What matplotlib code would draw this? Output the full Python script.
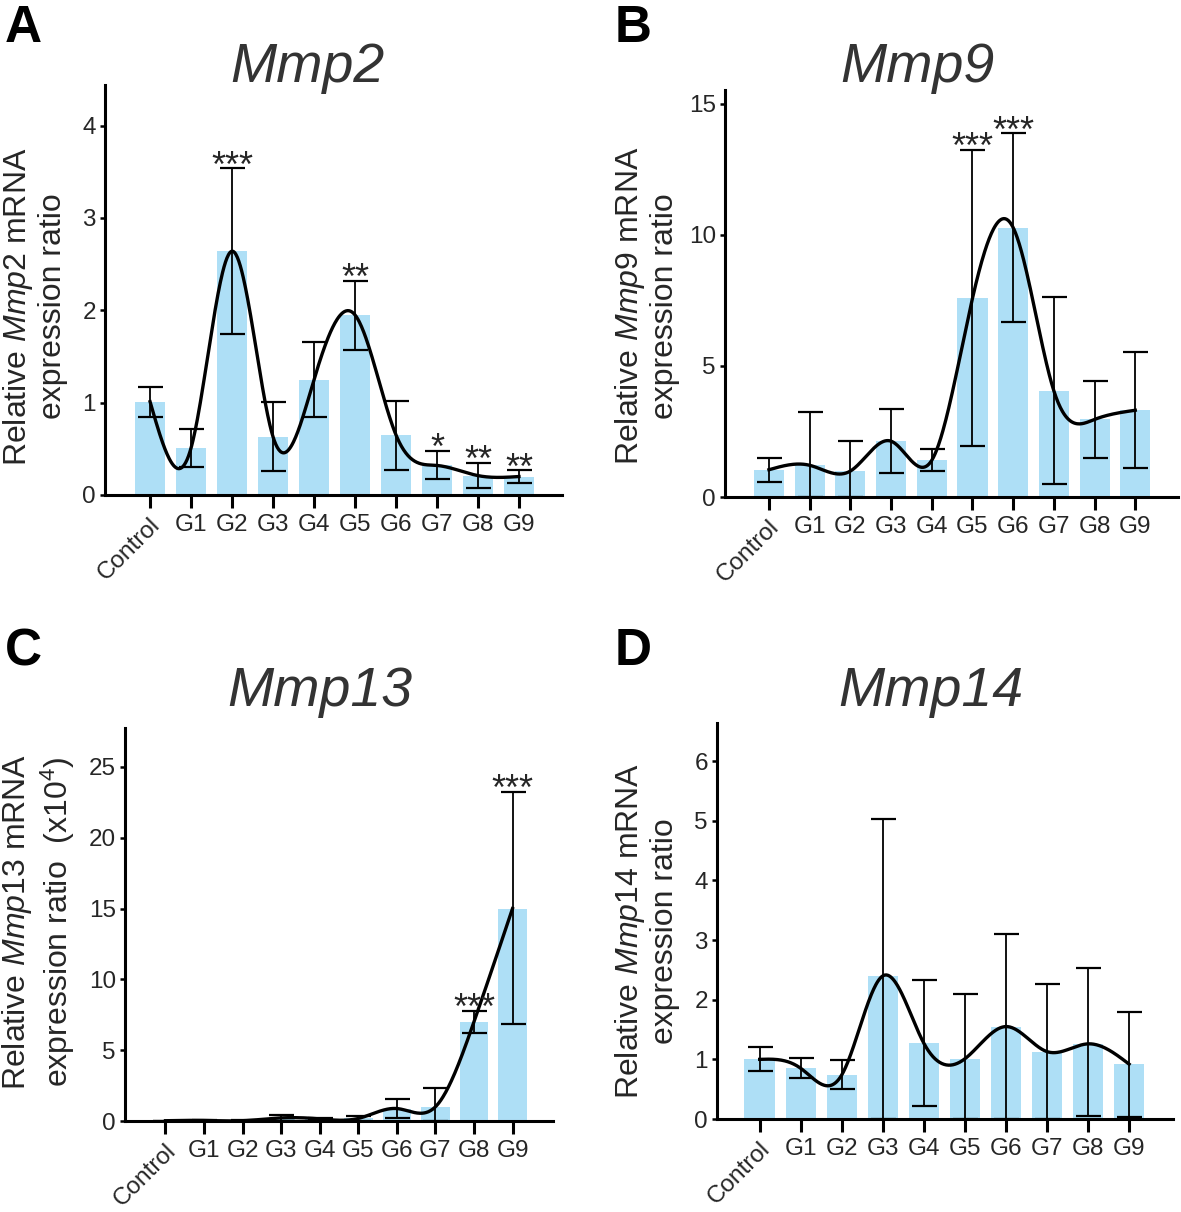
import numpy as np
import matplotlib
matplotlib.use("Agg")
import matplotlib.pyplot as plt
import matplotlib.transforms as mtransforms
from matplotlib import font_manager

groups = ["Control", "G1", "G2", "G3", "G4", "G5", "G6", "G7", "G8", "G9"]

# Mmp2
mmp2_mean = [1.01, 0.51, 2.64, 0.63, 1.25, 1.95, 0.65, 0.32, 0.21, 0.20]
mmp2_hi = [1.17, 0.72, 3.54, 1.01, 1.66, 2.32, 1.02, 0.48, 0.35, 0.27]
mmp2_lo = [0.85, 0.30, 1.74, 0.26, 0.85, 1.57, 0.27, 0.17, 0.08, 0.13]
mmp2_stars = ["", "", "***", "", "", "**", "", "*", "**", "**"]

# Mmp9
mmp9_mean = [1.04, 1.21, 0.99, 2.13, 1.40, 7.58, 10.28, 4.05, 2.96, 3.31]
mmp9_hi = [1.49, 3.25, 2.13, 3.35, 1.82, 13.25, 13.89, 7.64, 4.42, 5.54]
mmp9_lo = [0.57, 0.0, 0.0, 0.92, 0.99, 1.94, 6.69, 0.48, 1.49, 1.11]
mmp9_stars = ["", "", "", "", "", "***", "***", "", "", ""]

# Mmp13 (x10^4)
mmp13_mean = [0.02, 0.04, 0.02, 0.22, 0.15, 0.18, 0.88, 1.00, 7.00, 15.00]
mmp13_hi = [0.03, 0.06, 0.04, 0.45, 0.22, 0.38, 1.55, 2.31, 7.79, 23.25]
mmp13_lo = [0.01, 0.02, 0.01, 0.0, 0.08, 0.0, 0.24, 0.0, 6.19, 6.82]
mmp13_stars = ["", "", "", "", "", "", "", "", "***", "***"]

# Mmp14
mmp14_mean = [1.00, 0.85, 0.74, 2.40, 1.27, 1.01, 1.55, 1.13, 1.26, 0.92]
mmp14_hi = [1.20, 1.02, 0.99, 5.03, 2.33, 2.09, 3.11, 2.26, 2.53, 1.80]
mmp14_lo = [0.80, 0.68, 0.50, 0.0, 0.21, 0.0, 0.0, 0.0, 0.05, 0.04]
mmp14_stars = [""] * 10

BAR = "#aedff6"
TXT = "#262626"
W, H = 1181, 1212

plt.rcParams["font.family"] = "Liberation Sans"
plt.rcParams["mathtext.fontset"] = "custom"
plt.rcParams["mathtext.rm"] = "Liberation Sans"
plt.rcParams["mathtext.it"] = "Liberation Sans:italic"

try:
    font_manager.findfont(font_manager.FontProperties(family="Liberation Sans Narrow"),
                          fallback_to_default=False)
    NARROW = "Liberation Sans Narrow"
except Exception:
    NARROW = "Liberation Sans"


def natural_spline(y, n_pts=500):
    y = np.asarray(y, float)
    n = len(y)
    A = np.zeros((n, n))
    r = np.zeros(n)
    A[0, 0] = A[-1, -1] = 1
    for i in range(1, n - 1):
        A[i, i - 1], A[i, i], A[i, i + 1] = 1, 4, 1
        r[i] = 6 * (y[i + 1] - 2 * y[i] + y[i - 1])
    M = np.linalg.solve(A, r)
    xs = np.linspace(0, n - 1, n_pts)
    idx = np.clip(np.floor(xs).astype(int), 0, n - 2)
    t = xs - idx
    u = 1 - t
    ys = u * y[idx] + t * y[idx + 1] + (u ** 3 - u) * M[idx] / 6 + (t ** 3 - t) * M[idx + 1] / 6
    return xs, ys


def px_axes(left, right, y0, top):
    return [left / W, 1 - y0 / H, (right - left) / W, (y0 - top) / H]


def draw_panel(fig, rect, mean, lo, hi, stars, ylim, yticks, xlim, ylabel, labelpos):
    ax = fig.add_axes(rect)
    x = np.arange(len(groups))
    mean = np.array(mean)
    ax.bar(x, mean, width=0.74, color=BAR, zorder=1)
    ax.errorbar(x, mean, yerr=[mean - np.array(lo), np.array(hi) - mean], fmt="none",
                ecolor="black", elinewidth=1.3, capsize=9, capthick=1.6, zorder=2)
    xs, ys = natural_spline(mean)
    ax.plot(xs, ys, color="black", lw=2.4, zorder=3)
    for xi, h, s in zip(x, hi, stars):
        if s:
            ax.annotate(s, (xi, h), xytext=(0, -12), textcoords="offset points",
                        ha="center", va="bottom", fontsize=26, color=TXT)
    ax.set_xlim(*xlim)
    ax.set_ylim(*ylim)
    ax.set_yticks(yticks)
    ax.set_xticks(x)
    ax.set_xticklabels(groups)
    for sp in ["top", "right"]:
        ax.spines[sp].set_visible(False)
    for sp in ["left", "bottom"]:
        ax.spines[sp].set_linewidth(2.2)
        ax.spines[sp].set_zorder(4)
    ax.tick_params(axis="x", length=9.5, width=2.2, pad=4, labelsize=17.5, labelcolor=TXT)
    ax.tick_params(axis="y", length=3.5, width=1.8, pad=3, labelsize=17.5, labelcolor=TXT)
    lab = ax.get_xticklabels()[0]
    lab.set_rotation(45)
    lab.set_ha("right")
    lab.set_rotation_mode("anchor")
    lab.set_transform(lab.get_transform() + mtransforms.ScaledTranslation(-1 / 100, 0, fig.dpi_scale_trans))
    ax.set_ylabel(ylabel, fontsize=23, color=TXT, linespacing=1.15)
    ax.yaxis.set_label_coords(*labelpos)
    return ax


fig = plt.figure(figsize=(W / 100, H / 100), dpi=100)

draw_panel(fig, px_axes(105, 562, 495, 85), mmp2_mean, mmp2_lo, mmp2_hi, mmp2_stars,
           (0, 4.44), [0, 1, 2, 3, 4], (-1.1, 10.05),
           "Relative $\\mathit{Mmp2}$ mRNA\nexpression ratio", (-0.081, 0.46))
draw_panel(fig, px_axes(725, 1178, 497, 90), mmp9_mean, mmp9_lo, mmp9_hi, mmp9_stars,
           (0, 15.53), [0, 5, 10, 15], (-1.08, 10.05),
           "Relative $\\mathit{Mmp9}$ mRNA\nexpression ratio", (-0.099, 0.47))
draw_panel(fig, px_axes(125, 553, 1121, 728), mmp13_mean, mmp13_lo, mmp13_hi, mmp13_stars,
           (0, 27.75), [0, 5, 10, 15, 20, 25], (-1.05, 10.05),
           "Relative $\\mathit{Mmp13}$ mRNA\nexpression ratio  (x10$^4$)", (-0.112, 0.506))
draw_panel(fig, px_axes(717, 1173, 1119, 723), mmp14_mean, mmp14_lo, mmp14_hi, mmp14_stars,
           (0, 6.64), [0, 1, 2, 3, 4, 5, 6], (-1.04, 10.07),
           "Relative $\\mathit{Mmp14}$ mRNA\nexpression ratio", (-0.081, 0.475))

titles = [("Mmp2", 307, 82), ("Mmp9", 917, 82), ("Mmp13", 320, 706), ("Mmp14", 931, 706)]
for t, xc, yb in titles:
    fig.text(xc / W, 1 - yb / H, t, ha="center", va="baseline", fontsize=40,
             style="italic", family=NARROW, color="#333333")

letters = [("A", 5, 42), ("B", 615, 42), ("C", 5, 665), ("D", 615, 665)]
for t, xl, yb in letters:
    fig.text(xl / W, 1 - yb / H, t, ha="left", va="baseline", fontsize=37,
             weight="bold", family=NARROW, color="black")

fig.savefig("out.png", dpi=100)
